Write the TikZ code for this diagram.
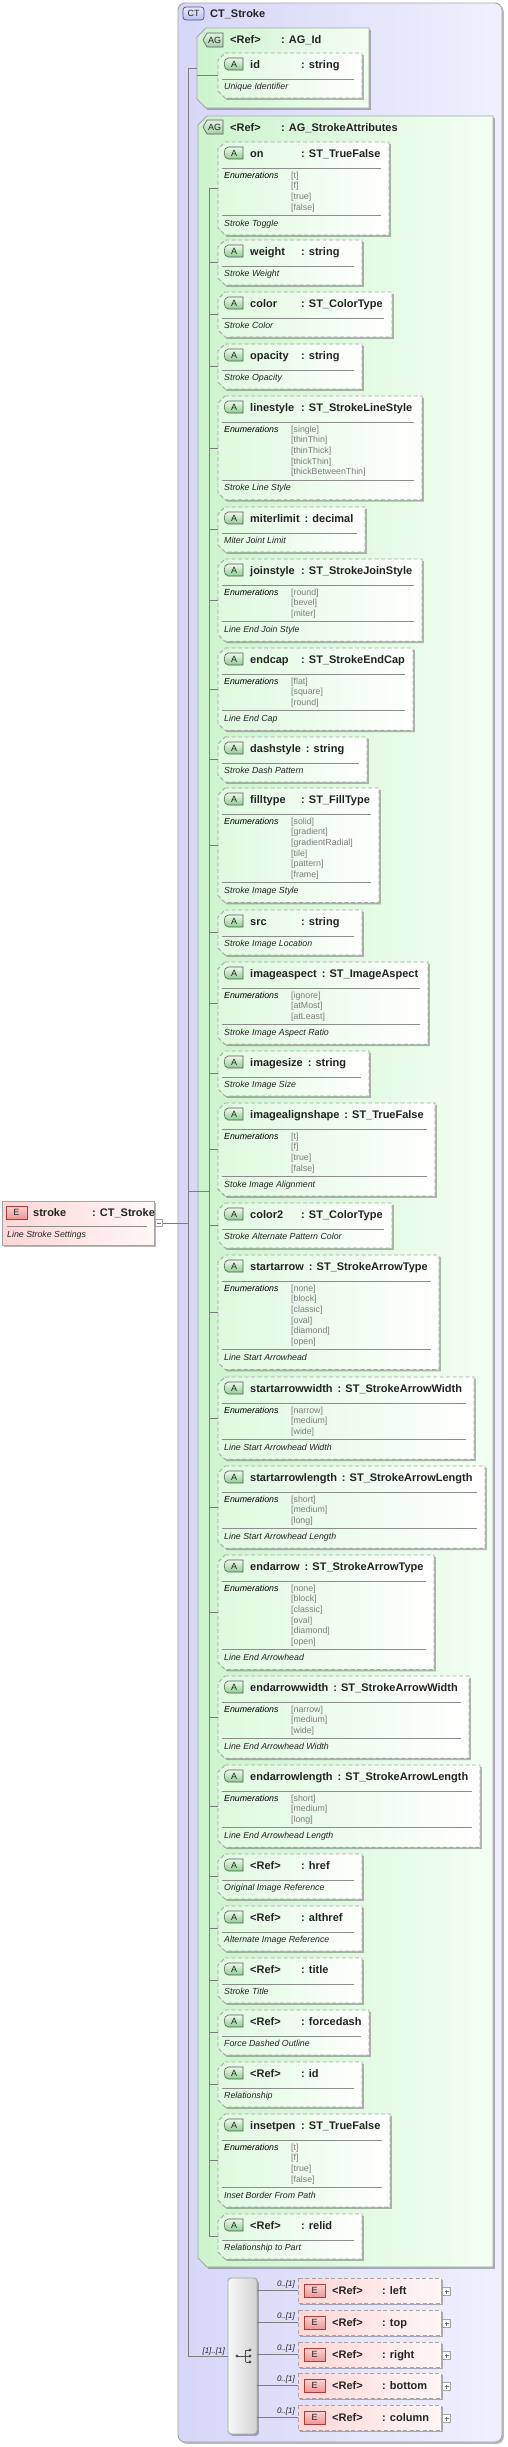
\documentclass[tikz,border=0pt]{standalone}
\usepackage{fontspec}
\setmainfont{Liberation Sans}
\usetikzlibrary{shadows}
\definecolor{ctL}{RGB}{214,214,248}
\definecolor{ctR}{RGB}{240,240,253}
\definecolor{agL}{RGB}{204,244,204}
\definecolor{agR}{RGB}{244,255,244}
\definecolor{atL}{RGB}{222,250,222}
\definecolor{atR}{RGB}{255,255,255}
\definecolor{elL}{RGB}{255,214,214}
\definecolor{elR}{RGB}{255,247,247}
\definecolor{bordc}{RGB}{165,165,165}
\definecolor{connc}{RGB}{125,125,125}
\definecolor{txtc}{RGB}{35,35,35}
\definecolor{enumc}{RGB}{125,125,125}
\definecolor{abT}{RGB}{238,252,238}
\definecolor{abB}{RGB}{140,205,140}
\definecolor{agbT}{RGB}{225,242,225}
\definecolor{agbB}{RGB}{165,208,165}
\definecolor{ebT}{RGB}{252,212,212}
\definecolor{ebB}{RGB}{236,150,150}
\definecolor{ebD}{RGB}{170,60,60}
\definecolor{ctbT}{RGB}{232,232,255}
\definecolor{ctbB}{RGB}{190,190,240}
\definecolor{ctbD}{RGB}{80,80,130}
\newsavebox\ntbox
\newcommand\nt[3]{\sbox\ntbox{#2}\ifdim\wd\ntbox<\dimexpr#1-5pt\relax\makebox[#1][l]{\usebox\ntbox}\else\usebox\ntbox\hspace{5pt}\fi#3}
\tikzset{
 shd/.style={drop shadow={shadow xshift=1.8pt, shadow yshift=-1.8pt, opacity=0.28, fill=black}},
 frame/.style={rectangle, draw=none, inner sep=0pt, outer sep=0pt},
 ctshape/.style={draw=bordc, line width=0.9pt, left color=ctL, right color=ctR, shd, rounded corners=7pt},
 agshape/.style={draw=bordc, line width=0.9pt, left color=agL, right color=agR, shd},
 atshape/.style={draw=bordc, line width=0.9pt, dash pattern=on 4pt off 2.5pt, left color=atL, right color=atR, shd},
 elshape/.style={draw=bordc, line width=0.9pt, dash pattern=on 4pt off 2.5pt, left color=elL, right color=elR, shd},
 topshape/.style={draw=bordc, line width=0.9pt, left color=elL, right color=elR, shd},
 compshape/.style={draw=bordc, line width=0.9pt, left color=black!3, right color=black!17, shd, rounded corners=3pt},
 conn/.style={draw=connc, line width=0.7pt},
 sepline/.style={draw=black!45, line width=0.6pt},
 hdr/.style={font=\fontsize{11}{13}\selectfont\bfseries, text=txtc, anchor=base west, inner sep=0pt},
 dsc/.style={font=\fontsize{8.8}{10}\selectfont\itshape, text=txtc, anchor=base west, inner sep=0pt},
 enm/.style={font=\fontsize{8.8}{10}\selectfont, text=enumc, anchor=base west, inner sep=0pt},
 card/.style={font=\fontsize{8}{9}\selectfont\itshape, text=txtc, anchor=base east, inner sep=0pt},
 badgetxt/.style={font=\fontsize{9}{10}\selectfont, text=txtc, inner sep=0pt},
 smallbox/.style={rectangle, draw=bordc, fill=white, line width=0.6pt, minimum size=7.5pt, inner sep=0pt},
}
\newcommand\abadge[3]{%
 \node[frame, minimum width=20pt, minimum height=12pt, anchor=north west] (#1) at (#2,#3) {};
 \path[draw=black!65, line width=0.6pt, top color=abT, bottom color=abB] (#1.north east) -- ([xshift=5pt]#1.north west) .. controls (#1.north west) and (#1.south west) .. ([xshift=5pt]#1.south west) -- (#1.south east) -- cycle;
 \node[badgetxt] (#1-t) at ([xshift=1pt]#1.center) {A};
}
\newcommand\agbadge[3]{%
 \node[frame, minimum width=20pt, minimum height=14pt, anchor=north west] (#1) at (#2,#3) {};
 \path[draw=black!65, line width=0.6pt, top color=agbT, bottom color=agbB] (#1.north east) -- ([xshift=4pt]#1.north west) -- (#1.west) -- ([xshift=4pt]#1.south west) -- (#1.south east) -- cycle;
 \node[badgetxt] (#1-t) at ([xshift=1.5pt]#1.center) {AG};
}
\newcommand\ebadge[3]{%
 \node[frame, minimum width=21pt, minimum height=13pt, anchor=north west] (#1) at (#2,#3) {};
 \path[draw=ebD, line width=0.7pt, top color=ebT, bottom color=ebB] (#1.north west) rectangle (#1.south east);
 \node[badgetxt] (#1-t) at (#1.center) {E};
}
% #1 id, #2 top, #3 right, #4 name, #5 type, #6 n enums, #7 enums, #8 description
\newcommand\attr[8]{%
 \pgfmathsetmacro\bh{ifthenelse(#6==0,45,50.3+10.7*#6)}%
 \node[frame, minimum width={#3-218}, minimum height=\bh, anchor=north west] (#1) at (218,#2) {};
 \path[atshape] ([xshift=7pt]#1.north west) -- (#1.north east) -- (#1.south east) -- ([xshift=7pt]#1.south west) -- ([yshift=7pt]#1.south west) -- ([yshift=-7pt]#1.north west) -- cycle;
 \abadge{#1-b}{223}{#2+5}
 \node[hdr] (#1-h) at (250,#2+15) {\nt{51pt}{#4}{#5}};
 \draw[sepline] (222,#2+26) -- (#3-8,#2+26);
 \ifnum#6>0
  \node[dsc, text=black] (#1-e) at (224,#2+36) {Enumerations};
  \foreach \v [count=\i from 0] in {#7} {\node[enm] (#1-v\i) at (291,{#2+36+10.7*\i}) {[\v]};}
  \draw[sepline] (222,{#2+41+10.7*(#6-1)}) -- ({#3-8},{#2+41+10.7*(#6-1)});
  \node[dsc] (#1-d) at (224,{#2+52+10.7*(#6-1)}) {#8};
 \else
  \node[dsc] (#1-d) at (224,#2+36) {#8};
 \fi
}
% #1 id, #2 top, #3 name
\newcommand\elref[3]{%
 \node[frame, minimum width=143pt, minimum height=25pt, anchor=north west] (#1) at (298,#2) {};
 \path[elshape] (#1.north west) rectangle (#1.south east);
 \ebadge{#1-b}{304}{#2+6}
 \node[hdr] (#1-h) at (332,#2+16) {\nt{50pt}{<Ref>}{#3}};
 \node[smallbox] (#1-p) at (446.5,#2+13.5) {};
 \draw[line width=0.5pt, black!55] ([xshift=-2pt]#1-p.center) -- ([xshift=2pt]#1-p.center) ([yshift=-2pt]#1-p.center) -- ([yshift=2pt]#1-p.center);
 \node[card] (#1-c) at (295,#2+8) {0..[1]};
}
\begin{document}
\begin{tikzpicture}[x=1pt,y=-1pt]
\useasboundingbox (0,0) rectangle (507,2447);
\coordinate (spine) at (188,0);
\coordinate (ispine) at (209,0);
% complex type box
\node[frame, minimum width=324pt, minimum height=2439pt, anchor=north west] (ct) at (178,3) {};
\path[ctshape] (ct.north west) rectangle (ct.south east);
\node[frame, minimum width=21pt, minimum height=13pt, anchor=north west] (ct-b) at (183,7) {};
\path[draw=ctbD, line width=0.7pt, top color=ctbT, bottom color=ctbB, rounded corners=3pt] (ct-b.north west) rectangle (ct-b.south east);
\node[badgetxt] (ct-bt) at (ct-b.center) {CT};
\node[hdr] (ct-h) at (210,17) {CT\_Stroke};
% AG_Id
\node[frame, minimum width=172pt, minimum height=80pt, anchor=north west] (agid) at (197,28) {};
\path[agshape] ([xshift=9pt]agid.north west) -- (agid.north east) -- (agid.south east) -- ([xshift=9pt]agid.south west) -- ([yshift=9pt]agid.south west) -- ([yshift=-9pt]agid.north west) -- cycle;
\agbadge{agid-b}{203}{33}
\node[hdr] (agid-h) at (230,43) {\nt{51pt}{<Ref>}{: AG\_Id}};
\attr{idA}{53}{362}{id}{: string}{0}{}{Unique Identifier}
% AG_StrokeAttributes
\node[frame, minimum width=295pt, minimum height=2151pt, anchor=north west] (agsa) at (198,116) {};
\path[agshape] ([xshift=9pt]agsa.north west) -- (agsa.north east) -- (agsa.south east) -- ([xshift=9pt]agsa.south west) -- ([yshift=9pt]agsa.south west) -- ([yshift=-9pt]agsa.north west) -- cycle;
\agbadge{agsa-b}{203}{120}
\node[hdr] (agsa-h) at (230,131) {\nt{51pt}{<Ref>}{: AG\_StrokeAttributes}};
\attr{on}{142}{389}{on}{: ST\_TrueFalse}{4}{t,f,true,false}{Stroke Toggle}
\attr{weight}{240}{362}{weight}{: string}{0}{}{Stroke Weight}
\attr{color}{292}{392}{color}{: ST\_ColorType}{0}{}{Stroke Color}
\attr{opacity}{344}{362}{opacity}{: string}{0}{}{Stroke Opacity}
\attr{linestyle}{396}{422}{linestyle}{: ST\_StrokeLineStyle}{5}{single,thinThin,thinThick,thickThin,thickBetweenThin}{Stroke Line Style}
\attr{miterlimit}{507}{365}{miterlimit}{: decimal}{0}{}{Miter Joint Limit}
\attr{joinstyle}{559}{422}{joinstyle}{: ST\_StrokeJoinStyle}{3}{round,bevel,miter}{Line End Join Style}
\attr{endcap}{648}{413}{endcap}{: ST\_StrokeEndCap}{3}{flat,square,round}{Line End Cap}
\attr{dashstyle}{737}{367}{dashstyle}{: string}{0}{}{Stroke Dash Pattern}
\attr{filltype}{788}{379}{filltype}{: ST\_FillType}{6}{solid,gradient,gradientRadial,tile,pattern,frame}{Stroke Image Style}
\attr{src}{910}{362}{src}{: string}{0}{}{Stroke Image Location}
\attr{imageaspect}{962}{428}{imageaspect}{: ST\_ImageAspect}{3}{ignore,atMost,atLeast}{Stroke Image Aspect Ratio}
\attr{imagesize}{1051}{369}{imagesize}{: string}{0}{}{Stroke Image Size}
\attr{imagealignshape}{1103}{435}{imagealignshape}{: ST\_TrueFalse}{4}{t,f,true,false}{Stoke Image Alignment}
\attr{color2}{1203}{392}{color2}{: ST\_ColorType}{0}{}{Stroke Alternate Pattern Color}
\attr{startarrow}{1255}{439}{startarrow}{: ST\_StrokeArrowType}{6}{none,block,classic,oval,diamond,open}{Line Start Arrowhead}
\attr{startarrowwidth}{1377}{474}{startarrowwidth}{: ST\_StrokeArrowWidth}{3}{narrow,medium,wide}{Line Start Arrowhead Width}
\attr{startarrowlength}{1466}{485}{startarrowlength}{: ST\_StrokeArrowLength}{3}{short,medium,long}{Line Start Arrowhead Length}
\attr{endarrow}{1555}{434}{endarrow}{: ST\_StrokeArrowType}{6}{none,block,classic,oval,diamond,open}{Line End Arrowhead}
\attr{endarrowwidth}{1676}{469}{endarrowwidth}{: ST\_StrokeArrowWidth}{3}{narrow,medium,wide}{Line End Arrowhead Width}
\attr{endarrowlength}{1765}{480}{endarrowlength}{: ST\_StrokeArrowLength}{3}{short,medium,long}{Line End Arrowhead Length}
\attr{href}{1854}{362}{<Ref>}{: href}{0}{}{Original Image Reference}
\attr{althref}{1906}{362}{<Ref>}{: althref}{0}{}{Alternate Image Reference}
\attr{title}{1958}{362}{<Ref>}{: title}{0}{}{Stroke Title}
\attr{forcedash}{2010}{369}{<Ref>}{: forcedash}{0}{}{Force Dashed Outline}
\attr{idR}{2062}{362}{<Ref>}{: id}{0}{}{Relationship}
\attr{insetpen}{2114}{390}{insetpen}{: ST\_TrueFalse}{4}{t,f,true,false}{Inset Border From Path}
\attr{relid}{2214}{362}{<Ref>}{: relid}{0}{}{Relationship to Part}
% compositor (choice)
\node[frame, minimum width=29pt, minimum height=156pt, anchor=north west] (comp) at (228,2278) {};
\path[compshape] (comp.north west) rectangle (comp.south east);
\begin{scope}[shift={(comp.center)}]
 \draw[line width=0.7pt, black!70] (-5.5,0) -- (3,0) (3,-6) -- (3,6) (3,-6) -- (7.5,-6) (3,6) -- (7.5,6) (3,0) -- (7.5,0);
 \fill[black!70] (-5.5,0) circle (1.6) (7.5,-6) circle (1.6) (7.5,0) circle (1.6) (7.5,6) circle (1.6);
\end{scope}
\node[card] (comp-c) at (225,2353) {[1]..[1]};
\elref{elleft}{2278}{: left}
\elref{eltop}{2310}{: top}
\elref{elright}{2342}{: right}
\elref{elbottom}{2373}{: bottom}
\elref{elcolumn}{2405}{: column}
% global element stroke
\node[frame, minimum width=152pt, minimum height=44pt, anchor=north west] (stroke) at (2,1201) {};
\path[topshape] (stroke.north west) rectangle (stroke.south east);
\ebadge{stroke-b}{6}{1206}
\node[hdr] (stroke-h) at (33,1216) {\nt{59pt}{stroke}{: CT\_Stroke}};
\draw[sepline] (7,1226) -- (147,1226);
\node[dsc] (stroke-d) at (7,1237) {Line Stroke Settings};
\node[smallbox] (stroke-m) at (159,1223) {};
\draw[line width=0.5pt, black!55] ([xshift=-2pt]stroke-m.center) -- ([xshift=2pt]stroke-m.center);
% connectors
\draw[conn] (stroke-m.east) -- (stroke-m.east -| spine);
\draw[conn] (agid.west) -- (agid.west -| spine) -- (comp.west -| spine) -- (comp.west);
\draw[conn] (agid.west |- idA.west) -- (idA.west);
\draw[conn] (agsa.west -| spine) -- (agsa.west -| ispine);
\draw[conn] (on.west -| ispine) -- (relid.west -| ispine);
\foreach \n in {on,weight,color,opacity,linestyle,miterlimit,joinstyle,endcap,dashstyle,filltype,src,imageaspect,imagesize,imagealignshape,color2,startarrow,startarrowwidth,startarrowlength,endarrow,endarrowwidth,endarrowlength,href,althref,title,forcedash,idR,insetpen,relid}
 \draw[conn] (\n.west -| ispine) -- (\n.west);
\foreach \n in {elleft,eltop,elright,elbottom,elcolumn}
 \draw[conn] (comp.east |- \n.west) -- (\n.west);
\end{tikzpicture}
\end{document}
